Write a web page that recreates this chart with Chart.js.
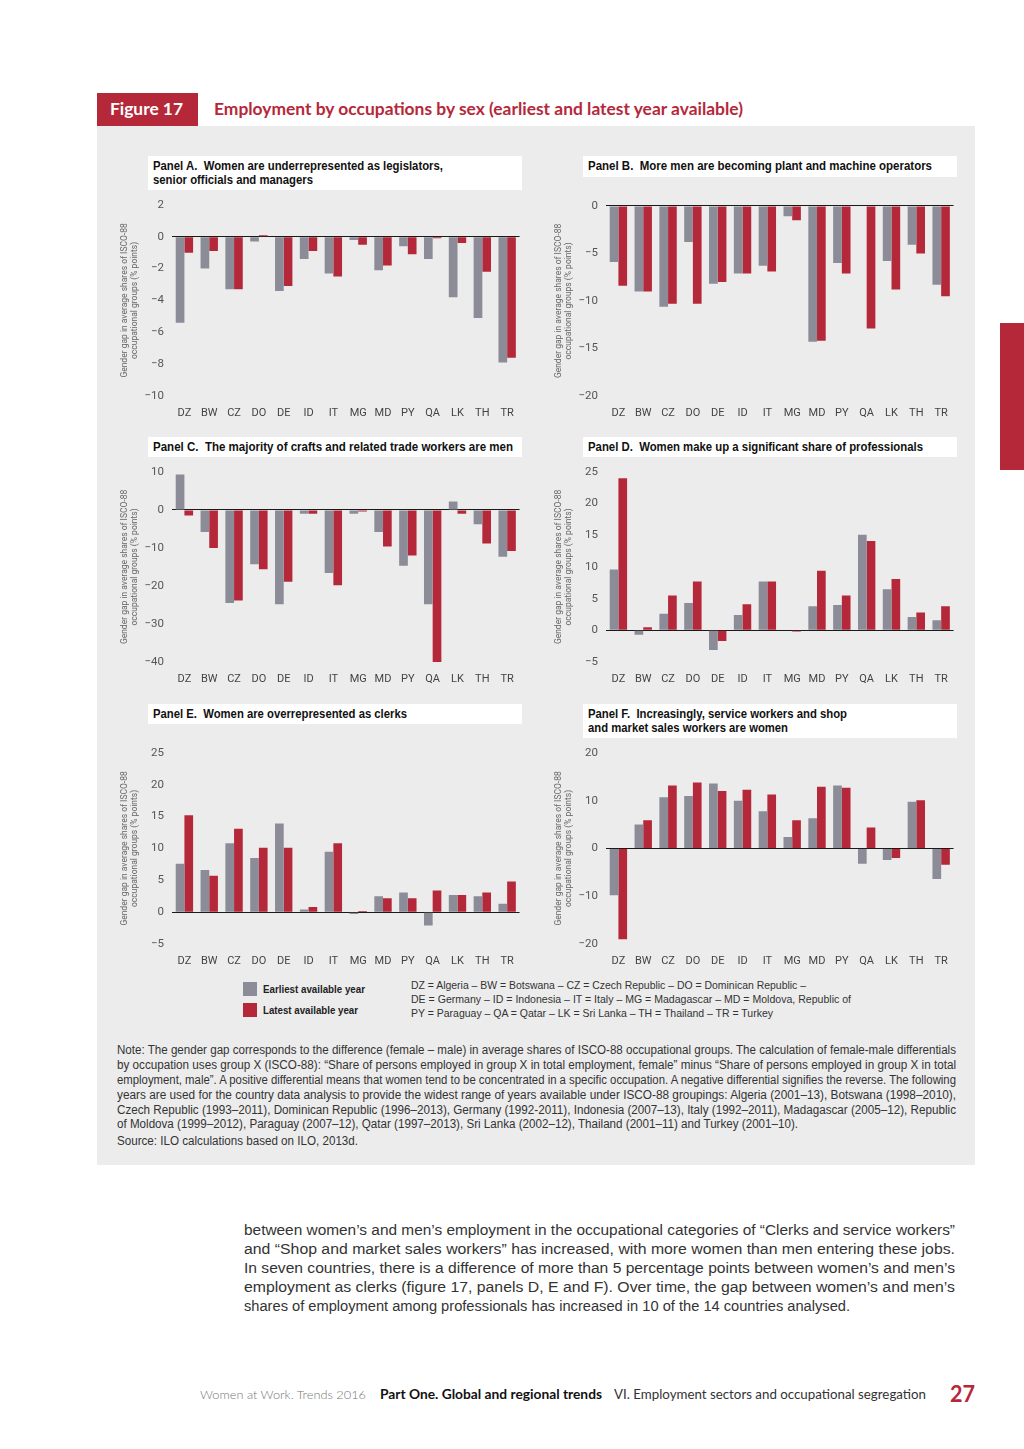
<!DOCTYPE html>
<html>
<head>
<meta charset="utf-8">
<script src="https://cdn.jsdelivr.net/npm/chart.js@4.4.0/dist/chart.umd.min.js"></script>
<style>
  body { margin: 0; width: 1024px; height: 1449px; background: #fff; position: relative; overflow: hidden;
         font-family: "Liberation Sans", Arial, sans-serif; color: #333; }
  .abs { position: absolute; }
  .t { position: absolute; white-space: nowrap; transform-origin: 0 50%; }
  #figtag { left: 97px; top: 93px; width: 101px; height: 33px; background: #b5283a; }
  #panelbg { left: 97px; top: 126px; width: 878px; height: 1039px; background: #ececec; }
  #sidetab { left: 1000px; top: 323px; width: 24px; height: 147px; background: #b5283a; }
  .pbox { background: #fff; width: 374px; }
  .pt { font-weight: bold; font-size: 12px; line-height: 14px; color: #111; }
  .chartbox { width: 412px; }
  .legsq { width: 14px; height: 14px; }
  .leg { font-weight: bold; font-size: 11px; line-height: 14px; color: #222; }
  .key { font-size: 11.5px; line-height: 14px; color: #333; }
  .note { font-size: 12px; line-height: 14px; color: #333; }
  .bt { font-size: 14.7px; line-height: 19px; color: #333; }
  .ft { font-family: Lato, sans-serif; font-size: 12.5px; line-height: 16px; }
</style>
</head>
<body>
<div class="abs" id="figtag"></div>
<div class="t" data-w="73" style="left:110px;top:99px;font:bold 17px/20px Lato, sans-serif;color:#fff;">Figure 17</div>
<div class="t" data-w="529" style="left:214px;top:99px;font:bold 17px/20px Lato, sans-serif;color:#b5283a;">Employment by occupations by sex (earliest and latest year available)</div>
<div class="abs" id="panelbg"></div>
<div class="abs" id="sidetab"></div>

<div class="abs pbox" style="left:148px;top:156px;height:34px;"></div>
<div class="abs pbox" style="left:583px;top:156px;height:21px;"></div>
<div class="abs pbox" style="left:148px;top:437px;height:20px;"></div>
<div class="abs pbox" style="left:583px;top:437px;height:20px;"></div>
<div class="abs pbox" style="left:148px;top:704px;height:20px;"></div>
<div class="abs pbox" style="left:583px;top:704px;height:34px;"></div>

<div class="t pt" data-w="290" style="left:153px;top:159px;">Panel A.&nbsp; Women are underrepresented as legislators,</div>
<div class="t pt" data-w="160" style="left:153px;top:173px;">senior officials and managers</div>
<div class="t pt" data-w="344" style="left:588px;top:159px;">Panel B.&nbsp; More men are becoming plant and machine operators</div>
<div class="t pt" data-w="360" style="left:153px;top:440px;">Panel C.&nbsp; The majority of crafts and related trade workers are men</div>
<div class="t pt" data-w="335" style="left:588px;top:440px;">Panel D.&nbsp; Women make up a significant share of professionals</div>
<div class="t pt" data-w="254" style="left:153px;top:707px;">Panel E.&nbsp; Women are overrepresented as clerks</div>
<div class="t pt" data-w="259" style="left:588px;top:707px;">Panel F.&nbsp; Increasingly, service workers and shop</div>
<div class="t pt" data-w="200" style="left:588px;top:721px;">and market sales workers are women</div>

<div class="abs chartbox" style="left:113px;top:190px;height:232px;"><canvas id="chartA"></canvas></div>
<div class="abs chartbox" style="left:547px;top:191px;height:231px;"><canvas id="chartB"></canvas></div>
<div class="abs chartbox" style="left:113px;top:457px;height:231px;"><canvas id="chartC"></canvas></div>
<div class="abs chartbox" style="left:547px;top:457px;height:231px;"><canvas id="chartD"></canvas></div>
<div class="abs chartbox" style="left:113px;top:738px;height:232px;"><canvas id="chartE"></canvas></div>
<div class="abs chartbox" style="left:547px;top:738px;height:232px;"><canvas id="chartF"></canvas></div>

<div class="abs legsq" style="left:243px;top:982px;background:#8b8c98;"></div>
<div class="t leg" data-w="102" style="left:263px;top:982px;">Earliest available year</div>
<div class="abs legsq" style="left:243px;top:1003px;background:#b5283a;"></div>
<div class="t leg" data-w="95" style="left:263px;top:1003px;">Latest available year</div>
<div class="t key" data-w="395" style="left:411px;top:978px;">DZ = Algeria – BW = Botswana – CZ = Czech Republic – DO = Dominican Republic –</div>
<div class="t key" data-w="440" style="left:411px;top:992px;">DE = Germany – ID = Indonesia – IT = Italy – MG = Madagascar – MD = Moldova, Republic of</div>
<div class="t key" data-w="362" style="left:411px;top:1006px;">PY = Paraguay – QA = Qatar – LK = Sri Lanka – TH = Thailand – TR = Turkey</div>

<div class="t note" data-w="839" style="left:117px;top:1043px;">Note: The gender gap corresponds to the difference (female – male) in average shares of ISCO-88 occupational groups. The calculation of female-male differentials</div>
<div class="t note" data-w="839" style="left:117px;top:1058px;">by occupation uses group X (ISCO-88): “Share of persons employed in group X in total employment, female” minus “Share of persons employed in group X in total</div>
<div class="t note" data-w="839" style="left:117px;top:1073px;">employment, male”. A positive differential means that women tend to be concentrated in a specific occupation. A negative differential signifies the reverse. The following</div>
<div class="t note" data-w="839" style="left:117px;top:1088px;">years are used for the country data analysis to provide the widest range of years available under ISCO-88 groupings: Algeria (2001–13), Botswana (1998–2010),</div>
<div class="t note" data-w="839" style="left:117px;top:1103px;">Czech Republic (1993–2011), Dominican Republic (1996–2013), Germany (1992-2011), Indonesia (2007–13), Italy (1992–2011), Madagascar (2005–12), Republic</div>
<div class="t note" data-w="681" style="left:117px;top:1117px;">of Moldova (1999–2012), Paraguay (2007–12), Qatar (1997–2013), Sri Lanka (2002–12), Thailand (2001–11) and Turkey (2001–10).</div>
<div class="t note" data-w="241" style="left:117px;top:1134px;">Source: ILO calculations based on ILO, 2013d.</div>

<div class="t bt" data-w="711" style="left:244px;top:1221px;">between women’s and men’s employment in the occupational categories of “Clerks and service workers”</div>
<div class="t bt" data-w="711" style="left:244px;top:1240px;">and “Shop and market sales workers” has increased, with more women than men entering these jobs.</div>
<div class="t bt" data-w="711" style="left:244px;top:1259px;">In seven countries, there is a difference of more than 5 percentage points between women’s and men’s</div>
<div class="t bt" data-w="711" style="left:244px;top:1278px;">employment as clerks (figure 17, panels D, E and F). Over time, the gap between women’s and men’s</div>
<div class="t bt" data-w="606" style="left:244px;top:1297px;">shares of employment among professionals has increased in 10 of the 14 countries analysed.</div>

<div class="t ft" data-w="166" style="left:200px;top:1387px;color:#777;font-weight:300;">Women at Work. Trends 2016</div>
<div class="t ft" data-w="222" style="left:380px;top:1387px;color:#111;font-weight:bold;">Part One. Global and regional trends</div>
<div class="t ft" data-w="312" style="left:614px;top:1387px;color:#333;">VI. Employment sectors and occupational segregation</div>
<div class="t" data-w="25" style="left:950px;top:1381px;font:bold 22px/26px Lato, sans-serif;color:#b5283a;">27</div>

<script>
console.log("Figure 17 running");

let countries = ["DZ", "BW", "CZ", "DO", "DE", "ID", "IT", "MG", "MD", "PY", "QA", "LK", "TH", "TR"];

// Panel A: legislators, senior officials and managers
let earliestA = [-5.4, -2.0, -3.3, -0.3, -3.4, -1.4, -2.3, -0.2, -2.1, -0.6, -1.4, -3.8, -5.1, -7.9];
let latestA   = [-1.0, -0.9, -3.3, 0.1, -3.1, -0.9, -2.5, -0.5, -1.8, -1.1, -0.1, -0.4, -2.2, -7.6];

// Panel B: plant and machine operators
let earliestB = [-5.9, -9.0, -10.6, -3.8, -8.2, -7.1, -6.3, -1.1, -14.3, -6.0, 0, -5.8, -4.1, -8.3];
let latestB   = [-8.4, -9.0, -10.3, -10.3, -8.0, -7.1, -6.9, -1.5, -14.2, -7.1, -12.9, -8.8, -5.0, -9.5];

// Panel C: crafts and related trade workers
let earliestC = [9.3, -5.8, -24.5, -14.3, -24.8, -1.0, -16.6, -1.0, -5.8, -14.7, -24.8, 2.2, -3.8, -12.3];
let latestC   = [-1.5, -10.0, -23.8, -15.6, -18.9, -1.0, -19.8, -0.4, -9.6, -12.0, -40.0, -1.0, -8.8, -10.8];

// Panel D: professionals
let earliestD = [9.6, -0.7, 2.6, 4.3, -3.1, 2.4, 7.7, 0, 3.8, 4.0, 15.1, 6.5, 2.1, 1.6];
let latestD   = [24.0, 0.5, 5.5, 7.7, -1.7, 4.1, 7.7, -0.2, 9.4, 5.5, 14.1, 8.1, 2.8, 3.8];

// Panel E: clerks
let earliestE = [7.6, 6.6, 10.8, 8.5, 13.9, 0.4, 9.5, -0.3, 2.5, 3.1, -2.1, 2.7, 2.5, 1.3];
let latestE   = [15.2, 5.7, 13.1, 10.1, 10.1, 0.8, 10.8, 0.2, 2.2, 2.2, 3.4, 2.7, 3.1, 4.8];

// Panel F: service workers and shop and market sales workers
let earliestF = [-9.8, 5.0, 10.7, 11.0, 13.6, 10.0, 7.8, 2.4, 6.3, 13.2, -3.2, -2.4, 9.8, -6.4];
let latestF   = [-19.0, 5.9, 13.2, 13.8, 12.0, 12.3, 11.3, 5.9, 12.9, 12.7, 4.4, -2.0, 10.1, -3.4];

const GREY = "#8b8c98";
const RED = "#b5283a";
const FONT = "Roboto, 'Liberation Sans', sans-serif";

// squeeze each text line to the width it has on the printed page
function fitText() {
    document.querySelectorAll("[data-w]").forEach(el => {
        let natural = el.getBoundingClientRect().width;
        el.style.transform = "scaleX(" + (Number(el.dataset.w) / natural) + ")";
    });
}
fitText();

function makePanel(id, early, late, min, max, step) {
    return new Chart(document.getElementById(id), {
        type: "bar",
        data: {
            labels: countries,
            datasets: [
                { label: "Earliest available year", data: early, backgroundColor: GREY, barPercentage: 1, categoryPercentage: 0.7 },
                { label: "Latest available year", data: late, backgroundColor: RED, barPercentage: 1, categoryPercentage: 0.7 }
            ]
        },
        options: {
            responsive: true,
            maintainAspectRatio: false,
            animation: false,
            layout: { padding: { top: 8, right: 5, left: 0, bottom: 0 } },
            plugins: { legend: { display: false }, tooltip: { enabled: false } },
            scales: {
                x: {
                    grid: { display: false, drawTicks: false },
                    border: { display: false },
                    ticks: { color: "#444", font: { family: FONT, size: 11 }, padding: 11, maxRotation: 0 },
                    afterFit: s => { s.height = 26; }
                },
                y: {
                    min: min,
                    max: max,
                    border: { display: false },
                    grid: {
                        drawTicks: false,
                        color: c => c.tick && c.tick.value === 0 ? "#1a1a1a" : "rgba(0,0,0,0)",
                        lineWidth: 1
                    },
                    ticks: {
                        stepSize: step,
                        padding: 8,
                        color: "#555",
                        font: { family: FONT, size: 11.5 },
                        callback: v => v < 0 ? "\u2212" + Math.abs(v) : String(v)
                    },
                    title: {
                        display: true,
                        text: ["Gender gap in average shares of ISCO-88", "occupational groups (% points)"],
                        color: "#666",
                        font: { family: FONT, size: 8.5, lineHeight: 1.2 },
                        padding: { top: 7, bottom: 0 }
                    },
                    afterFit: s => { s.width = 59; }
                }
            }
        }
    });
}

makePanel("chartA", earliestA, latestA, -10, 2, 2);
makePanel("chartB", earliestB, latestB, -20, 0, 5);
makePanel("chartC", earliestC, latestC, -40, 10, 10);
makePanel("chartD", earliestD, latestD, -5, 25, 5);
makePanel("chartE", earliestE, latestE, -5, 25, 5);
makePanel("chartF", earliestF, latestF, -20, 20, 10);
</script>
</body>
</html>
